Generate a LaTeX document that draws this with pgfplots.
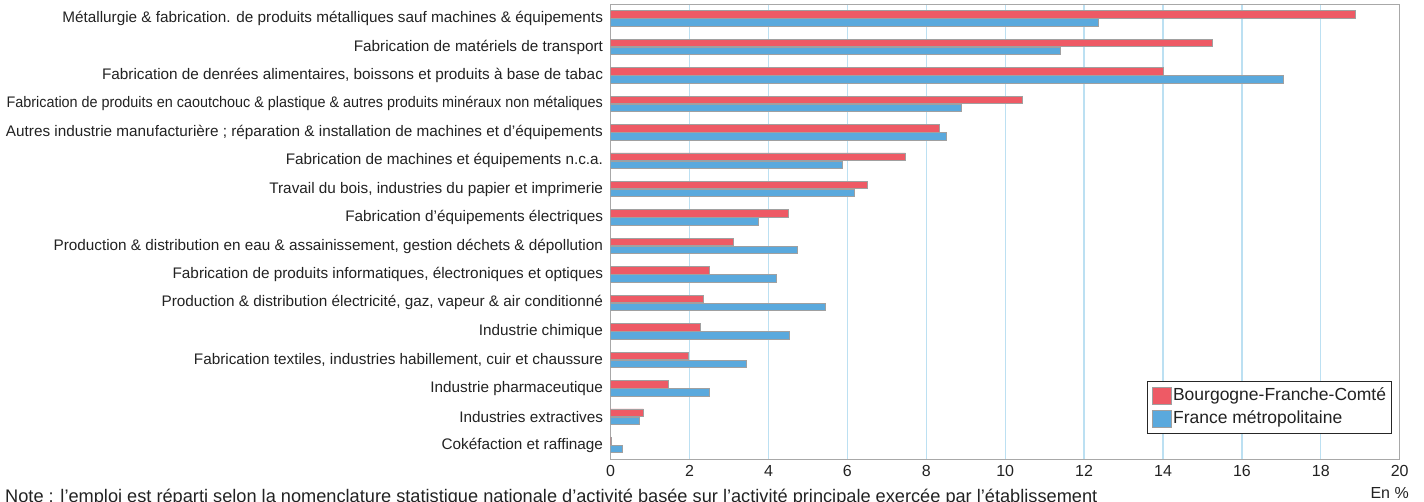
\documentclass[border=0pt]{standalone}
\usepackage{fontspec}
\setmainfont{Liberation Sans}
\usepackage{pgfplots}
\pgfplotsset{compat=1.18}
\definecolor{redbar}{HTML}{EE5A65}
\definecolor{bluebar}{HTML}{5AA9DD}
\definecolor{gridc}{HTML}{BCE0F2}
\definecolor{framec}{HTML}{A8A8A8}
\definecolor{barline}{HTML}{A0A0A0}
\definecolor{txt}{HTML}{222222}
\begin{document}
\begin{tikzpicture}[x=1pt,y=1pt]
\begin{axis}[
  at={(610.7pt,41.7pt)}, anchor=south west,
  scale only axis, width=789pt, height=455pt,
  xbar, bar width=7.5pt,
  xmin=0, xmax=20, ymin=-0.5, ymax=15.5, y dir=reverse,
  xtick={0,2,...,20}, ytick={0,...,15},
  yticklabels={
    {Métallurgie \& fabrication. de produits métalliques sauf machines \& équipements},
    {Fabrication de matériels de transport},
    {Fabrication de denrées alimentaires, boissons et produits à base de tabac},
    {\scalebox{0.94}[1]{Fabrication de produits en caoutchouc \& plastique \& autres produits minéraux non métaliques}},
    {Autres industrie manufacturière ; réparation \& installation de machines et d'équipements},
    {Fabrication de machines et équipements n.c.a.},
    {Travail du bois, industries du papier et imprimerie},
    {Fabrication d'équipements électriques},
    {Production \& distribution en eau \& assainissement, gestion déchets \& dépollution},
    {Fabrication de produits informatiques, électroniques et optiques},
    {Production \& distribution électricité, gaz, vapeur \& air conditionné},
    {Industrie chimique},
    {Fabrication textiles, industries habillement, cuir et chaussure},
    {Industrie pharmaceutique},
    {Industries extractives},
    {Cokéfaction et raffinage}},
  xmajorgrids, major grid style={gridc, line width=1.3pt},
  major tick length=0pt,
  axis line style={framec, line width=1.2pt},
  tick label style={font=\fontsize{15.3}{18}\selectfont, text=txt, inner sep=0pt},
  yticklabel style={xshift=-7.5pt},
  xticklabel style={yshift=-5.7pt, font=\fontsize{16}{19}\selectfont},
  /pgf/number format/assume math mode=true,
  legend cell align=left,
  legend style={at={(0.99024,0.0556)}, anchor=south east,
    draw=black!85, line width=0.8pt, font=\fontsize{17.5}{20}\selectfont,
    text=txt, inner xsep=4.5pt, inner ysep=5pt, row sep=5pt,
    nodes={inner sep=1pt, text height=12.5pt, text depth=4pt}},
  legend image code/.code={\draw[#1, line width=0.8pt] (0pt,-8.5pt) rectangle (19pt,8.5pt);},
]
\addplot[fill=redbar, draw=barline, line width=0.8pt, bar shift=4pt] coordinates {
  (18.87,0) (15.25,1) (14.01,2) (10.43,3) (8.34,4) (7.47,5) (6.51,6) (4.50,7)
  (3.11,8) (2.50,9) (2.35,10) (2.28,11) (1.97,12) (1.46,13) (0.83,14) (0.02,15)};
\addplot[fill=bluebar, draw=barline, line width=0.8pt, bar shift=-4pt] coordinates {
  (12.35,0) (11.41,1) (17.06,2) (8.90,3) (8.52,4) (5.88,5) (6.18,6) (3.74,7)
  (4.73,8) (4.20,9) (5.43,10) (4.53,11) (3.45,12) (2.50,13) (0.72,14) (0.29,15)};
\legend{Bourgogne-Franche-Comté, France métropolitaine}
\end{axis}
\node[anchor=base east, inner sep=0pt, text=txt, font=\fontsize{16}{19}\selectfont] at (1409,3) {En \%};
\node[anchor=base west, inner sep=0pt, text=txt, font=\fontsize{18.2}{21}\selectfont] at (5,-1.5) {Note : l’emploi est réparti selon la nomenclature statistique nationale d’activité basée sur l’activité principale exercée par l’établissement};
\pgfresetboundingbox
\useasboundingbox (0,0) rectangle (1424,501);
\end{tikzpicture}
\end{document}
